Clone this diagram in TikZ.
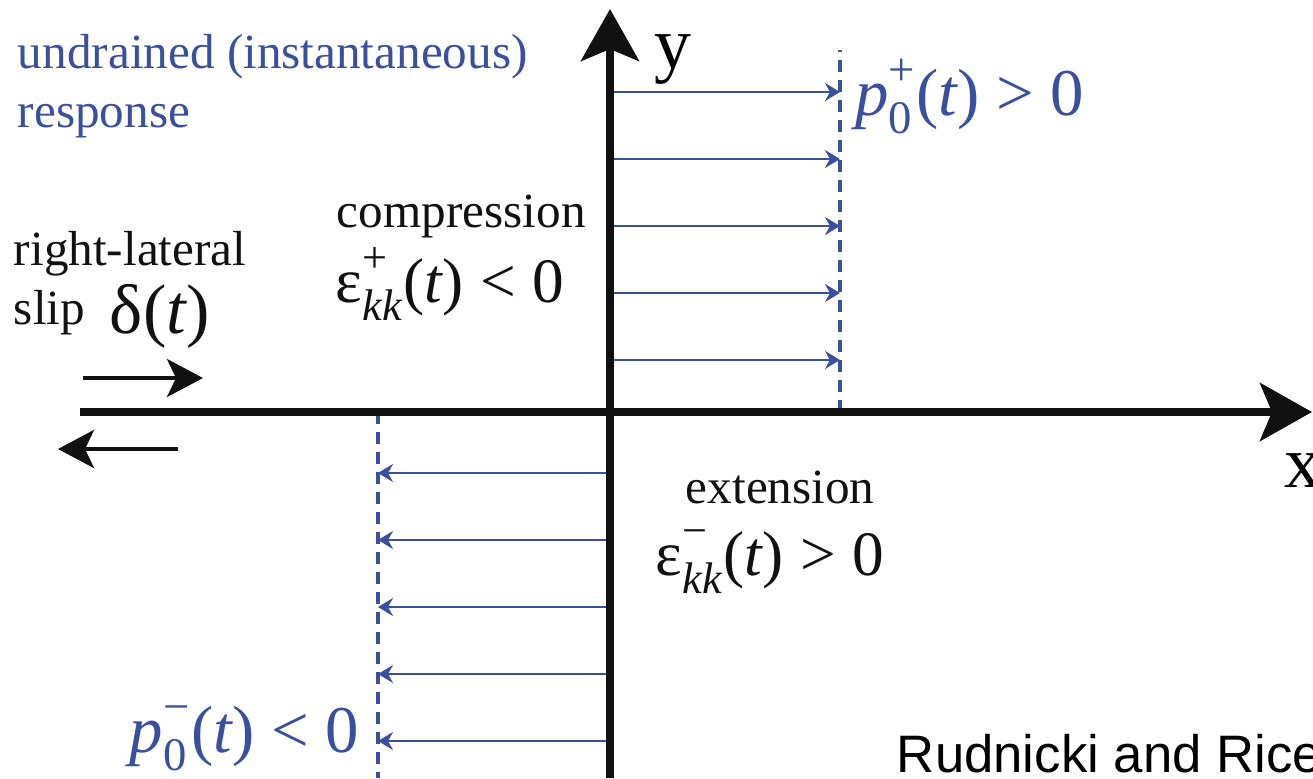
\documentclass[tikz,border=0pt]{standalone}
\usepackage{amsmath}
\usepackage{fontspec}
\setmainfont{Liberation Serif}
\newfontfamily\citefont{Liberation Sans}
\usetikzlibrary{
arrows.meta,
positioning
}
\definecolor{PoreBlue}{HTML}{3A4FA0}
\definecolor{InkBlack}{HTML}{111111}
\newcommand{\tx}[1]{\text{#1}}
% raised superscript over lowered subscript
\newcommand{\supsub}[2]{^{\tx{\raisebox{0.16em}{#1}}}_{\tx{\raisebox{-0.04em}{#2}}}}

\begin{document}
\begin{tikzpicture}[x=1cm,y=1cm,>=Stealth,every node/.style={inner sep=0pt,outer sep=0pt,anchor=base west},
    axisline/.style={InkBlack, line width=2.2pt, -{Stealth[length=5.2mm,width=5.8mm,inset=1.2mm]}},
    slipline/.style={InkBlack, line width=1.2pt, -{Stealth[length=3.6mm,width=3.8mm,inset=0.9mm]}},
    flowline/.style={PoreBlue, line width=0.6pt, -{Stealth[length=1.5mm,width=1.8mm,inset=0.5mm]}},
    frontline/.style={PoreBlue, line width=1.1pt, dash pattern=on 1.2mm off 0.8mm},
    plaintext/.style={text=InkBlack, font=\fontsize{14}{16.8}\selectfont},
    bluetext/.style={text=PoreBlue, font=\fontsize{14}{16.8}\selectfont},
    strainmath/.style={text=InkBlack, font=\fontsize{18}{21}\selectfont},
    poremath/.style={text=PoreBlue, font=\fontsize{19}{22}\selectfont}]
    \useasboundingbox (-6.10,-3.66) rectangle (7.03,4.12);

    % pore pressure fronts
    \coordinate (frontR top) at (2.30,3.62);
    \coordinate (frontR bot) at (2.30,0);
    \coordinate (frontL top) at (-2.32,0);
    \coordinate (frontL bot) at (-2.32,-3.66);
    \draw[frontline] (frontR bot) -- (frontR top);
    \draw[frontline] (frontL top) -- (frontL bot);

    \foreach \y in {3.20,2.53,1.86,1.19,0.52} {
        \draw[flowline] (0,\y) -- (frontR bot |- 0,\y);
    }
    \foreach \y in {-0.61,-1.28,-1.95,-2.62,-3.29} {
        \draw[flowline] (0,\y) -- (frontL top |- 0,\y);
    }

    % axes
    \coordinate (origin) at (0,0);
    \draw[axisline] (0,-3.66) -- (0,4.03);
    \draw[axisline] (-5.30,0) -- (7.02,0);
    \node[font=\fontsize{21}{24}\selectfont] (ylab) at (0.45,3.44) {y};
    \node[font=\fontsize{21}{24}\selectfont] (xlab) at (6.74,-0.75) {x};

    % slip arrows
    \draw[slipline] (-5.27,0.34) -- (-4.07,0.34);
    \draw[slipline] (-4.32,-0.37) -- (-5.52,-0.37);

    % labels
    \node[bluetext] (undrained) at (-5.92,3.44) {undrained (instantaneous)};
    \node[bluetext] (response) at (-5.92,2.85) {response};
    \node[plaintext] (rightlat) at (-5.96,1.47) {right-lateral};
    \node[plaintext] (slip) at (-5.96,0.88) {slip};
    \node[strainmath, font=\fontsize{20}{23}\selectfont] (delta) at (-5.00,0.79) {$\tx{δ}\tx{(}\tx{\itshape t}\tx{)}$};
    \node[plaintext] (compr) at (-2.73,1.85) {compression};
    \node[strainmath] (epsplus) at (-2.74,1.10) {$\tx{ε}\supsub{+}{\itshape kk}\tx{(}\tx{\itshape t}\tx{)}\mathrel{\tx{<}}\tx{0}$};
    \node[plaintext] (ext) at (0.76,-0.91) {extension};
    \node[strainmath] (epsminus) at (0.46,-1.63) {$\tx{ε}\supsub{−}{\itshape kk}\tx{(}\tx{\itshape t}\tx{)}\mathrel{\tx{>}}\tx{0}$};
    \node[poremath] (pplus) at (2.45,2.97) {$\tx{\itshape p}\supsub{+}{0}\tx{(}\tx{\itshape t}\tx{)}\mathrel{\tx{>}}\tx{0}$};
    \node[poremath] (pminus) at (-4.80,-3.40) {$\tx{\itshape p}\supsub{−}{0}\tx{(}\tx{\itshape t}\tx{)}\mathrel{\tx{<}}\tx{0}$};
    \node[text=black, font=\citefont\fontsize{15}{18}\selectfont] (cite) at (2.87,-3.60) {Rudnicki and Rice};
\end{tikzpicture}
\end{document}
